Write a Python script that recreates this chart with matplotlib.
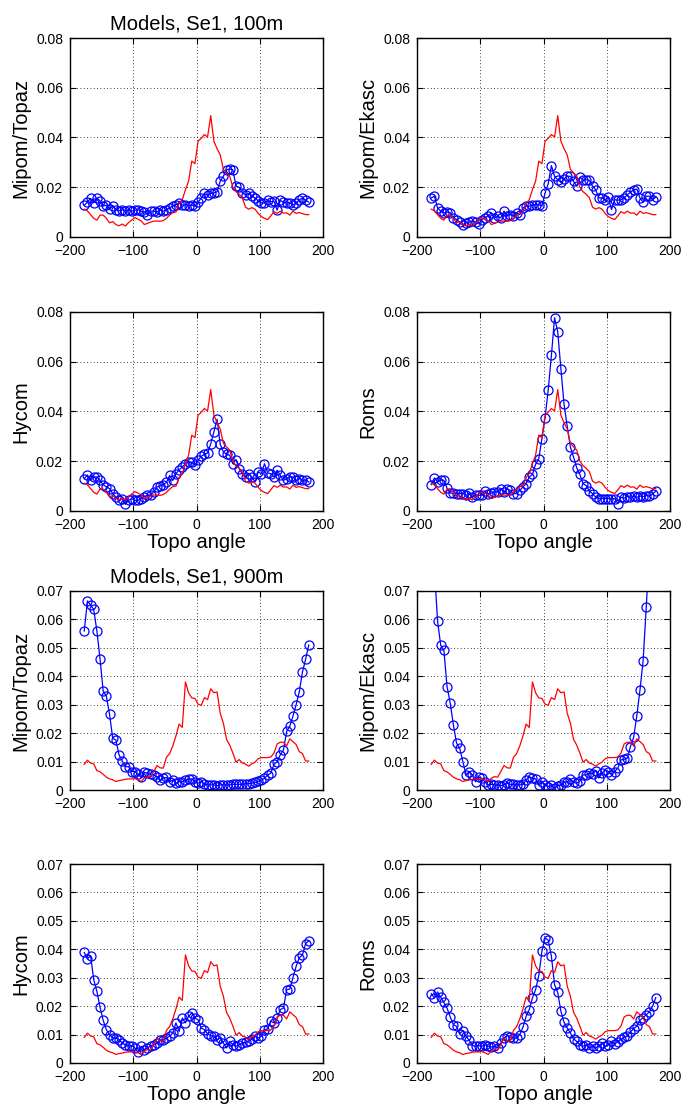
import numpy as np
import matplotlib
matplotlib.use('Agg')
import matplotlib.pyplot as plt

plt.rcParams['font.family'] = ['Liberation Sans', 'DejaVu Sans']

# topo angle bins (deg)
angle = np.arange(-177.5, 180, 5)

# observations (red), 100 m and 900 m
obs_100 = [0.0112, 0.0105, 0.0090, 0.0075, 0.0068, 0.0088, 0.0088, 0.0075, 0.0057, 0.0062,
           0.0050, 0.0045, 0.0052, 0.0044, 0.0058, 0.0068, 0.0078, 0.0072, 0.0065, 0.0050,
           0.0055, 0.0060, 0.0064, 0.0064, 0.0063, 0.0066, 0.0075, 0.0088, 0.0098, 0.0100,
           0.0135, 0.0150, 0.0190, 0.0224, 0.0305, 0.0295, 0.0385, 0.0397, 0.0412, 0.0402,
           0.0488, 0.0385, 0.0355, 0.0330, 0.0272, 0.0258, 0.0245, 0.0200, 0.0182, 0.0172,
           0.0158, 0.0120, 0.0112, 0.0118, 0.0112, 0.0095, 0.0082, 0.0075, 0.0070, 0.0085,
           0.0102, 0.0095, 0.0104, 0.0096, 0.0097, 0.0088, 0.0104, 0.0095, 0.0098, 0.0094,
           0.0090, 0.0090]
obs_900 = [0.0090, 0.0105, 0.0095, 0.0092, 0.0068, 0.0064, 0.0055, 0.0045, 0.0039, 0.0036,
           0.0030, 0.0033, 0.0035, 0.0038, 0.0039, 0.0039, 0.0040, 0.0036, 0.0030, 0.0042,
           0.0047, 0.0045, 0.0065, 0.0086, 0.0078, 0.0077, 0.0115, 0.0128, 0.0155, 0.0190,
           0.0232, 0.0220, 0.0380, 0.0342, 0.0324, 0.0322, 0.0302, 0.0298, 0.0325, 0.0318,
           0.0356, 0.0342, 0.0345, 0.0270, 0.0235, 0.0178, 0.0158, 0.0130, 0.0098, 0.0107,
           0.0095, 0.0091, 0.0084, 0.0092, 0.0098, 0.0110, 0.0114, 0.0114, 0.0114, 0.0116,
           0.0130, 0.0162, 0.0168, 0.0168, 0.0155, 0.0180, 0.0170, 0.0160, 0.0135, 0.0128,
           0.0102, 0.0102]

# models (blue), 100 m
topaz_100 = [0.0127, 0.0140, 0.0155, 0.0138, 0.0157, 0.0145, 0.0124, 0.0128, 0.0112, 0.0124,
             0.0110, 0.0105, 0.0110, 0.0104, 0.0108, 0.0104, 0.0107, 0.0110, 0.0104, 0.0100,
             0.0090, 0.0104, 0.0104, 0.0100, 0.0108, 0.0104, 0.0110, 0.0117, 0.0124, 0.0130,
             0.0137, 0.0128, 0.0130, 0.0126, 0.0128, 0.0124, 0.0140, 0.0157, 0.0175, 0.0168,
             0.0175, 0.0177, 0.0182, 0.0224, 0.0244, 0.0270, 0.0273, 0.0270, 0.0204, 0.0200,
             0.0177, 0.0170, 0.0175, 0.0164, 0.0157, 0.0145, 0.0137, 0.0137, 0.0147, 0.0142,
             0.0144, 0.0108, 0.0147, 0.0140, 0.0137, 0.0137, 0.0130, 0.0135, 0.0150, 0.0157,
             0.0148, 0.0140]
ekasc_100 = [0.0157, 0.0164, 0.0117, 0.0104, 0.0097, 0.0100, 0.0098, 0.0077, 0.0070, 0.0060,
             0.0050, 0.0057, 0.0060, 0.0064, 0.0060, 0.0053, 0.0070, 0.0077, 0.0085, 0.0097,
             0.0077, 0.0084, 0.0077, 0.0104, 0.0084, 0.0090, 0.0084, 0.0097, 0.0090, 0.0117,
             0.0124, 0.0124, 0.0128, 0.0130, 0.0130, 0.0124, 0.0177, 0.0215, 0.0287, 0.0244,
             0.0230, 0.0220, 0.0233, 0.0244, 0.0244, 0.0224, 0.0204, 0.0240, 0.0230, 0.0230,
             0.0228, 0.0204, 0.0190, 0.0157, 0.0157, 0.0150, 0.0160, 0.0110, 0.0150, 0.0148,
             0.0150, 0.0157, 0.0170, 0.0180, 0.0190, 0.0193, 0.0157, 0.0140, 0.0164, 0.0164,
             0.0150, 0.0160]
hycom_100 = [0.0130, 0.0145, 0.0123, 0.0137, 0.0137, 0.0123, 0.0106, 0.0097, 0.0090, 0.0070,
             0.0056, 0.0043, 0.0050, 0.0027, 0.0043, 0.0050, 0.0043, 0.0043, 0.0050, 0.0058,
             0.0063, 0.0063, 0.0077, 0.0097, 0.0100, 0.0106, 0.0115, 0.0143, 0.0123, 0.0150,
             0.0165, 0.0177, 0.0190, 0.0197, 0.0195, 0.0184, 0.0204, 0.0220, 0.0228, 0.0233,
             0.0270, 0.0318, 0.0369, 0.0268, 0.0237, 0.0228, 0.0224, 0.0190, 0.0207, 0.0170,
             0.0150, 0.0137, 0.0150, 0.0137, 0.0117, 0.0157, 0.0150, 0.0190, 0.0153, 0.0150,
             0.0137, 0.0164, 0.0143, 0.0123, 0.0130, 0.0137, 0.0137, 0.0123, 0.0130, 0.0123,
             0.0125, 0.0117]
roms_100 = [0.0106, 0.0133, 0.0117, 0.0124, 0.0124, 0.0092, 0.0072, 0.0072, 0.0070, 0.0070,
            0.0070, 0.0063, 0.0072, 0.0056, 0.0063, 0.0063, 0.0063, 0.0080, 0.0070, 0.0072,
            0.0077, 0.0077, 0.0090, 0.0077, 0.0090, 0.0083, 0.0070, 0.0070, 0.0083, 0.0097,
            0.0110, 0.0137, 0.0147, 0.0188, 0.0210, 0.0291, 0.0375, 0.0488, 0.0626, 0.0777,
            0.0720, 0.0572, 0.0429, 0.0340, 0.0257, 0.0217, 0.0174, 0.0147, 0.0110, 0.0102,
            0.0080, 0.0070, 0.0056, 0.0050, 0.0050, 0.0050, 0.0050, 0.0048, 0.0050, 0.0030,
            0.0055, 0.0052, 0.0058, 0.0055, 0.0060, 0.0055, 0.0060, 0.0058, 0.0062, 0.0060,
            0.0068, 0.0080]

# models (blue), 900 m
topaz_900 = [0.0559, 0.0665, 0.0651, 0.0635, 0.0560, 0.0461, 0.0347, 0.0330, 0.0267, 0.0182,
             0.0176, 0.0124, 0.0102, 0.0082, 0.0082, 0.0065, 0.0065, 0.0055, 0.0044, 0.0062,
             0.0059, 0.0055, 0.0053, 0.0047, 0.0035, 0.0041, 0.0044, 0.0029, 0.0035, 0.0024,
             0.0029, 0.0029, 0.0035, 0.0039, 0.0039, 0.0029, 0.0024, 0.0029, 0.0020, 0.0018,
             0.0018, 0.0018, 0.0015, 0.0018, 0.0018, 0.0018, 0.0018, 0.0020, 0.0020, 0.0020,
             0.0020, 0.0022, 0.0022, 0.0024, 0.0027, 0.0030, 0.0035, 0.0041, 0.0053, 0.0059,
             0.0090, 0.0100, 0.0124, 0.0141, 0.0206, 0.0224, 0.0260, 0.0300, 0.0345, 0.0415,
             0.0460, 0.0510]
ekasc_900 = [0.0900, 0.0780, 0.0594, 0.0509, 0.0491, 0.0364, 0.0306, 0.0229, 0.0165, 0.0147,
             0.0100, 0.0053, 0.0065, 0.0053, 0.0029, 0.0047, 0.0041, 0.0029, 0.0018, 0.0020,
             0.0018, 0.0018, 0.0015, 0.0018, 0.0024, 0.0020, 0.0020, 0.0018, 0.0018, 0.0020,
             0.0035, 0.0047, 0.0041, 0.0039, 0.0018, 0.0027, 0.0018, 0.0012, 0.0018, 0.0006,
             0.0015, 0.0018, 0.0027, 0.0029, 0.0039, 0.0027, 0.0024, 0.0032, 0.0053, 0.0053,
             0.0059, 0.0058, 0.0068, 0.0042, 0.0059, 0.0071, 0.0065, 0.0053, 0.0065, 0.0077,
             0.0106, 0.0108, 0.0112, 0.0153, 0.0185, 0.0261, 0.0351, 0.0455, 0.0645, 0.0850,
             0.1000, 0.1100]
hycom_900 = [0.0389, 0.0366, 0.0378, 0.0293, 0.0252, 0.0196, 0.0150, 0.0117, 0.0100, 0.0088,
             0.0088, 0.0082, 0.0070, 0.0064, 0.0059, 0.0061, 0.0053, 0.0038, 0.0059, 0.0047,
             0.0053, 0.0061, 0.0064, 0.0070, 0.0080, 0.0082, 0.0088, 0.0094, 0.0106, 0.0141,
             0.0111, 0.0158, 0.0141, 0.0164, 0.0176, 0.0158, 0.0152, 0.0123, 0.0117, 0.0103,
             0.0096, 0.0094, 0.0082, 0.0088, 0.0070, 0.0053, 0.0076, 0.0064, 0.0059, 0.0064,
             0.0070, 0.0073, 0.0076, 0.0085, 0.0094, 0.0088, 0.0094, 0.0117, 0.0120, 0.0147,
             0.0141, 0.0158, 0.0188, 0.0193, 0.0258, 0.0260, 0.0300, 0.0340, 0.0370, 0.0380,
             0.0420, 0.0430]
roms_900 = [0.0244, 0.0229, 0.0250, 0.0231, 0.0213, 0.0193, 0.0162, 0.0135, 0.0129, 0.0103,
            0.0114, 0.0094, 0.0080, 0.0061, 0.0059, 0.0061, 0.0059, 0.0064, 0.0059, 0.0056,
            0.0059, 0.0053, 0.0070, 0.0088, 0.0096, 0.0091, 0.0088, 0.0088, 0.0100, 0.0126,
            0.0164, 0.0188, 0.0229, 0.0258, 0.0307, 0.0393, 0.0440, 0.0432, 0.0375, 0.0275,
            0.0248, 0.0182, 0.0143, 0.0123, 0.0106, 0.0085, 0.0076, 0.0064, 0.0059, 0.0064,
            0.0053, 0.0059, 0.0053, 0.0061, 0.0070, 0.0059, 0.0064, 0.0076, 0.0068, 0.0075,
            0.0085, 0.0090, 0.0095, 0.0110, 0.0120, 0.0130, 0.0150, 0.0160, 0.0170, 0.0180,
            0.0200, 0.0230]

W, H = 682, 1109
fig = plt.figure(figsize=(W / 100, H / 100), dpi=100)

# (model data, obs data, ylabel, left px, top px, ymax, ystep, title, xlabel)
panels = [
    (topaz_100, obs_100, 'Mipom/Topaz', 70, 38, 0.08, 0.02, 'Models, Se1, 100m', False),
    (ekasc_100, obs_100, 'Mipom/Ekasc', 417, 38, 0.08, 0.02, None, False),
    (hycom_100, obs_100, 'Hycom', 70, 312, 0.08, 0.02, None, True),
    (roms_100, obs_100, 'Roms', 417, 312, 0.08, 0.02, None, True),
    (topaz_900, obs_900, 'Mipom/Topaz', 70, 591, 0.07, 0.01, 'Models, Se1, 900m', False),
    (ekasc_900, obs_900, 'Mipom/Ekasc', 417, 591, 0.07, 0.01, None, False),
    (hycom_900, obs_900, 'Hycom', 70, 864, 0.07, 0.01, None, True),
    (roms_900, obs_900, 'Roms', 417, 864, 0.07, 0.01, None, True),
]

aw, ah = 253, 199

for model, obs, ylab, left, top, ymax, ystep, title, xlab in panels:
    ax = fig.add_axes([left / W, 1 - (top + ah) / H, aw / W, ah / H])
    ax.plot(angle, model, '-', color='b', lw=0.9, marker='o', ms=6.5,
            mfc='none', mec='b', mew=0.9, clip_on=True)
    ax.plot(angle, obs, '-', color='r', lw=0.9)
    ax.set_xlim(-200, 200)
    ax.set_ylim(0, ymax)
    ax.set_xticks([-200, -100, 0, 100, 200])
    yt = np.arange(0, ymax + ystep / 2, ystep)
    ax.set_yticks(yt)
    ax.set_yticklabels(['0'] + ['%g' % v for v in yt[1:]])
    ax.grid(True, color='k', linestyle=(0, (1, 3)), linewidth=0.6)
    ax.tick_params(direction='in', top=True, right=True, labelsize=10,
                   length=4, width=0.8, pad=5)
    for s in ax.spines.values():
        s.set_linewidth(1.0)
    ax.set_ylabel(ylab, fontsize=14.5, labelpad=4)
    if title:
        ax.set_title(title, fontsize=14.5, pad=6)
    if xlab:
        ax.set_xlabel('Topo angle', fontsize=14.5, labelpad=1)

fig.savefig('out.png', dpi=100)
